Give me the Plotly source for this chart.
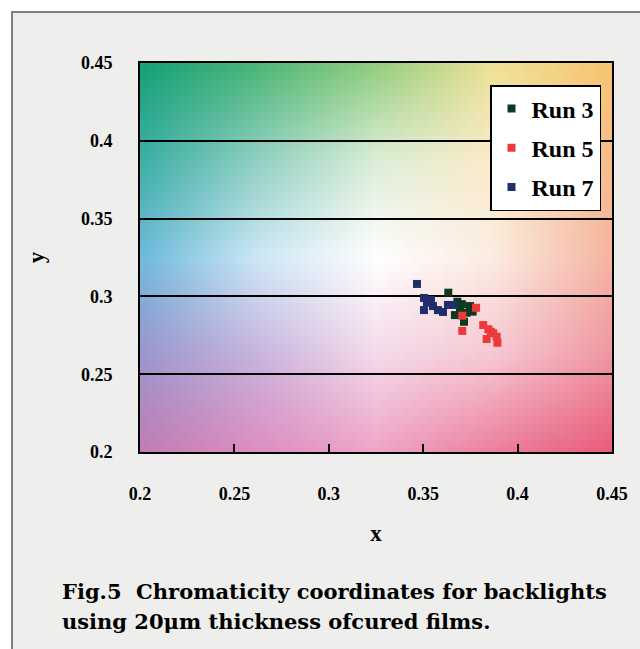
import base64, struct, zlib
import numpy as np
import plotly.graph_objects as go

# ---- data ----
run3_x = [0.3633, 0.3681, 0.3695, 0.3668, 0.3716, 0.3748, 0.3762, 0.3730, 0.3705]
run3_y = [0.3024, 0.2966, 0.2924, 0.2880, 0.2837, 0.2938, 0.2902, 0.2895, 0.2950]
run5_x = [0.3707, 0.3780, 0.3707, 0.3818, 0.3845, 0.3858, 0.3836, 0.3889, 0.3893, 0.3871]
run5_y = [0.2876, 0.2927, 0.2778, 0.2816, 0.2789, 0.2773, 0.2726, 0.2741, 0.2702, 0.2763]
run7_x = [0.3467, 0.3504, 0.3541, 0.3504, 0.3552, 0.3578, 0.3605, 0.3631, 0.3663, 0.3520]
run7_y = [0.3080, 0.2990, 0.2977, 0.2912, 0.2938, 0.2912, 0.2900, 0.2945, 0.2945, 0.2960]
x_ticks = [0.2, 0.25, 0.3, 0.35, 0.4, 0.45]
y_ticks = [0.2, 0.25, 0.3, 0.35, 0.4, 0.45]
caption_lines = ["Fig.5  Chromaticity coordinates for backlights",
                 "using 20μm thickness ofcured films."]

# ---- background colour field (style) ----
ctrl = np.array([
    [(192, 125, 180), (222, 142, 192), (238, 165, 200), (236, 128, 158), (232, 92, 122)],   # y=0.2
    [(155, 150, 205), (200, 180, 222), (244, 218, 234), (246, 200, 210), (240, 150, 162)],
    [(110, 185, 220), (205, 232, 246), (255, 255, 255), (252, 236, 226), (244, 180, 160)],
    [(60, 175, 165), (145, 208, 195), (220, 238, 215), (252, 235, 200), (246, 188, 138)],
    [(20, 160, 120), (75, 182, 118), (145, 205, 125), (238, 226, 150), (248, 196, 112)],    # y=0.45
], dtype=float)
W, H, B = 472, 389, 8
cx = np.linspace(0.2, 0.45, 5)
xs = 0.2 + ((np.arange(W) // B) * B + B / 2) / W * 0.25
ys = 0.45 - ((np.arange(H) // B) * B + B / 2) / H * 0.25
A = np.stack([np.stack([np.interp(xs, cx, ctrl[j, :, c]) for c in range(3)], axis=-1) for j in range(5)])
fy = (ys - 0.2) / 0.0625
j0 = np.clip(np.floor(fy).astype(int), 0, 3)
t = (fy - j0)[:, None, None]
img = A[j0] * (1 - t) + A[j0 + 1] * t
img = np.clip(img, 0, 255).astype(np.uint8)


def to_png(arr):
    h, w, _ = arr.shape
    raw = b"".join(b"\x00" + arr[i].tobytes() for i in range(h))
    def chunk(tag, data):
        c = struct.pack(">I", len(data)) + tag + data
        return c + struct.pack(">I", zlib.crc32(tag + data) & 0xffffffff)
    return (b"\x89PNG\r\n\x1a\n" + chunk(b"IHDR", struct.pack(">IIBBBBB", w, h, 8, 2, 0, 0, 0))
            + chunk(b"IDAT", zlib.compress(raw, 9)) + chunk(b"IEND", b""))


src = "data:image/png;base64," + base64.b64encode(to_png(img)).decode()

SERIF = "Liberation Serif"
CAP = "DejaVu Serif"
fig = go.Figure()
for name, xv, yv, col in [("Run 3", run3_x, run3_y, "#0b3a1f"),
                          ("Run 5", run5_x, run5_y, "#ec3a3a"),
                          ("Run 7", run7_x, run7_y, "#1f2e6a")]:
    fig.add_trace(go.Scatter(x=xv, y=yv, mode="markers", name=name, legendgroup=name,
                             marker=dict(symbol="square", size=8, color=col, line=dict(width=0))))

fig.add_layout_image(dict(source=src, xref="x", yref="y", x=0.2, y=0.45, sizex=0.25, sizey=0.25,
                          sizing="stretch", xanchor="left", yanchor="top", layer="below"))

pw, ph = 472, 389
def px(x): return (x - 140) / pw
def py(y): return (452 - y) / ph

fig.add_shape(type="rect", xref="paper", yref="paper", x0=px(12), x1=px(660), y0=py(670), y1=py(12),
              fillcolor="#eeefed", line=dict(color="#808080", width=2), layer="below")

annotations = [dict(xref="paper", yref="paper", x=px(60), y=py(yc), xanchor="left", yanchor="middle",
                    align="left", showarrow=False, text=line,
                    font=dict(family=CAP, size=21, weight="bold", color="black"))
               for line, yc in zip(caption_lines, [591, 621])]

fig.update_layout(
    width=640, height=649,
    margin=dict(l=140, r=28, t=63, b=197),
    paper_bgcolor="white", plot_bgcolor="rgba(0,0,0,0)",
    font=dict(family=SERIF, color="black"),
    showlegend=True,
    legend=dict(x=px(490), y=py(85), xanchor="left", yanchor="top", bgcolor="white",
                bordercolor="black", borderwidth=1.5, tracegroupgap=5,
                font=dict(family=SERIF, size=24, weight="bold", color="black")),
    xaxis=dict(range=[0.2, 0.45], tickvals=x_ticks, ticktext=[str(v) for v in x_ticks],
               showgrid=False, zeroline=False, showline=True, linecolor="black", linewidth=2, mirror=True,
               ticks="inside", ticklen=8, tickwidth=1.5, tickcolor="black", ticklabelstandoff=24,
               tickfont=dict(family=SERIF, size=18, weight="bold"),
               title=dict(text="x", standoff=22, font=dict(family=SERIF, size=23, weight="bold"))),
    yaxis=dict(range=[0.2, 0.45], tickvals=y_ticks, ticktext=[str(v) for v in y_ticks],
               showgrid=True, gridcolor="black", gridwidth=1.5, zeroline=False,
               showline=True, linecolor="black", linewidth=2, mirror=True,
               ticks="", ticklabelstandoff=22,
               tickfont=dict(family=SERIF, size=18, weight="bold"),
               title=dict(text="y", standoff=30, font=dict(family=SERIF, size=23, weight="bold"))),
    annotations=annotations,
)

fig.write_html("out.html")
